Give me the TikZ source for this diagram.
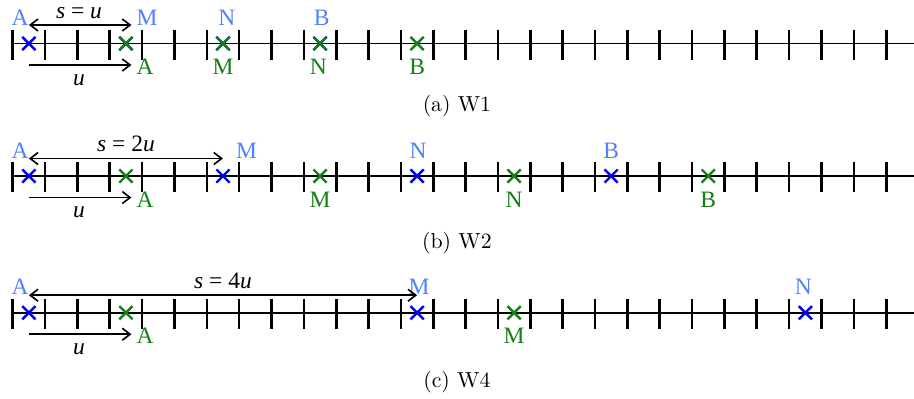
\documentclass[tikz,border=0pt]{standalone}
\usepackage{fontspec}
\newfontfamily\lblfont{Liberation Serif}
\usetikzlibrary{arrows.meta,calc,shapes.misc}

\definecolor{lblblue}{RGB}{80,130,255}
\definecolor{mkblue}{RGB}{0,0,245}
\definecolor{mkgreen}{RGB}{20,128,20}

\tikzset{
	axis/.style = {line width=.9pt},
	tick/.style = {line width=1.2pt},
	bmk/.style = {cross out, draw=mkblue, line width=1.1pt, minimum size=5pt, inner sep=0pt},
	gmk/.style = {bmk, draw=mkgreen},
	lbl/.style = {font=\lblfont\fontsize{10.8}{13}\selectfont, inner sep=0pt, anchor=base},
	blbl/.style = {lbl, text=lblblue},
	glbl/.style = {lbl, text=mkgreen},
	arr/.style = {line width=.75pt, -{Straight Barb[length=3.6pt,width=5.5pt]}},
	darr/.style = {arr, {Straight Barb[length=3.6pt,width=5.5pt]}-{Straight Barb[length=3.6pt,width=5.5pt]}},
	capt/.style = {font=\fontsize{10}{12}\selectfont, inner sep=0pt, anchor=base}
}

\begin{document}
\begin{tikzpicture}[x=14.88pt, y=-0.46pt]
	\useasboundingbox (-0.393,0) rectangle (27.86,398);

	% (a) W1
	\begin{scope}[shift={(0,43.5)}]
		\draw[axis] (0,0) -- (27.86,0);
		\foreach \i in {0,...,27} \draw[tick] (\i,-14) -- (\i,16);
		\node[bmk] (bA1) at (0.5,0) {};
		\node[bmk] (bM1) at (3.5,0) {};
		\node[bmk] (bN1) at (6.5,0) {};
		\node[bmk] (bB1) at (9.5,0) {};
		\node[gmk] (gA1) at (3.5,0) {};
		\node[gmk] (gM1) at (6.5,0) {};
		\node[gmk] (gN1) at (9.5,0) {};
		\node[gmk] (gB1) at (12.5,0) {};
		\node[blbl] (lbA1) at (0.23,-18) {A};
		\node[blbl] (lbM1) at (4.15,-18) {M};
		\node[blbl] (lbN1) at (6.62,-18) {N};
		\node[blbl] (lbB1) at (9.55,-18) {B};
		\node[glbl] (lgA1) at (4.09,31) {A};
		\node[glbl] (lgM1) at (6.5,31) {M};
		\node[glbl] (lgN1) at (9.45,31) {N};
		\node[glbl] (lgB1) at (12.5,31) {B};
		\draw[darr] ($(bA1)+(0,-18.5)$) -- ($(bM1)+(0.17,-18.5)$);
		\node[lbl] (s1) at (2.05,-24.7) {\textit{s} = \textit{u}};
		\draw[arr] ($(bA1)+(0,21.5)$) -- ($(gA1)+(0.17,21.5)$);
		\node[lbl] (u1) at (2.05,41.5) {\textit{u}};
	\end{scope}
	\node[capt] (capa) at (13.73,111) {(a) W1};

	% (b) W2
	\begin{scope}[shift={(0,176)}]
		\draw[axis] (0,0) -- (27.86,0);
		\foreach \i in {0,...,27} \draw[tick] (\i,-14) -- (\i,16);
		\node[bmk] (bA2) at (0.5,0) {};
		\node[bmk] (bM2) at (6.5,0) {};
		\node[bmk] (bN2) at (12.5,0) {};
		\node[bmk] (bB2) at (18.5,0) {};
		\node[gmk] (gA2) at (3.5,0) {};
		\node[gmk] (gM2) at (9.5,0) {};
		\node[gmk] (gN2) at (15.5,0) {};
		\node[gmk] (gB2) at (21.5,0) {};
		\node[blbl] (lbA2) at (0.23,-18) {A};
		\node[blbl] (lbM2) at (7.23,-18) {M};
		\node[blbl] (lbN2) at (12.53,-18) {N};
		\node[blbl] (lbB2) at (18.5,-18) {B};
		\node[glbl] (lgA2) at (4.09,31) {A};
		\node[glbl] (lgM2) at (9.5,31) {M};
		\node[glbl] (lgN2) at (15.5,31) {N};
		\node[glbl] (lgB2) at (21.5,31) {B};
		\draw[darr] ($(bA2)+(0,-17.5)$) -- ($(bM2)+(0,-17.5)$);
		\node[lbl] (s2) at (3.5,-24.7) {\textit{s} = 2\textit{u}};
		\draw[arr] ($(bA2)+(0,21.5)$) -- ($(gA2)+(0.17,21.5)$);
		\node[lbl] (u2) at (2.05,41.5) {\textit{u}};
	\end{scope}
	\node[capt] (capb) at (13.73,248.5) {(b) W2};

	% (c) W4
	\begin{scope}[shift={(0,312.7)}]
		\draw[axis] (0,0) -- (27.86,0);
		\foreach \i in {0,...,27} \draw[tick] (\i,-14) -- (\i,16);
		\node[bmk] (bA3) at (0.5,0) {};
		\node[bmk] (bM3) at (12.5,0) {};
		\node[bmk] (bN3) at (24.5,0) {};
		\node[gmk] (gA3) at (3.5,0) {};
		\node[gmk] (gM3) at (15.5,0) {};
		\node[blbl] (lbA3) at (0.23,-18) {A};
		\node[blbl] (lbM3) at (12.56,-18) {M};
		\node[blbl] (lbN3) at (24.44,-18) {N};
		\node[glbl] (lgA3) at (4.09,31) {A};
		\node[glbl] (lgM3) at (15.5,31) {M};
		\draw[darr] ($(bA3)+(0,-17.5)$) -- ($(bM3)+(0,-17.5)$);
		\node[lbl] (s3) at (6.5,-24.7) {\textit{s} = 4\textit{u}};
		\draw[arr] ($(bA3)+(0,21.5)$) -- ($(gA3)+(0.17,21.5)$);
		\node[lbl] (u3) at (2.05,41.5) {\textit{u}};
	\end{scope}
	\node[capt] (capc) at (13.73,387.5) {(c) W4};
\end{tikzpicture}
\end{document}
